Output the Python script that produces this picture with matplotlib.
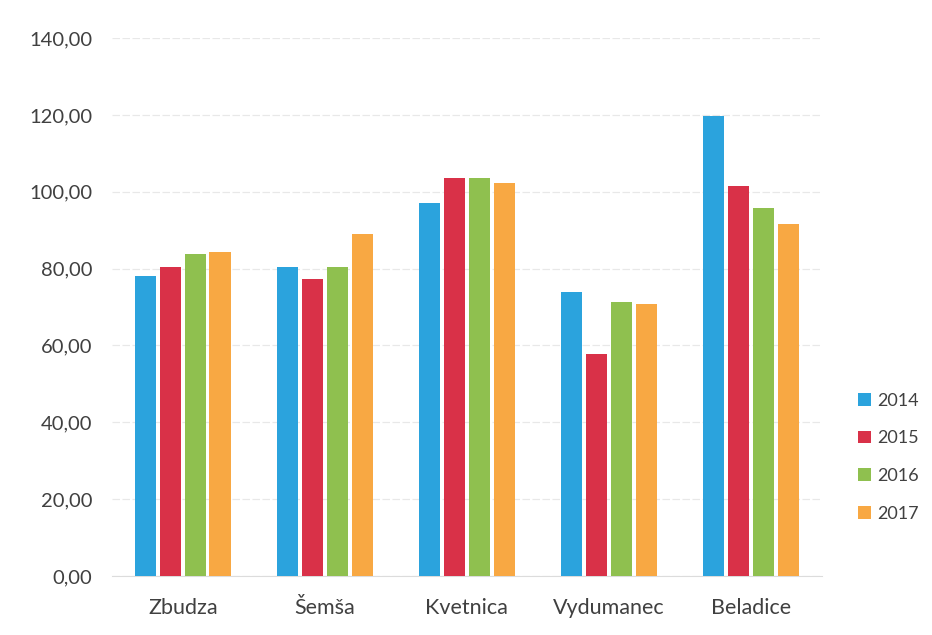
import matplotlib
matplotlib.use("Agg")
import matplotlib.pyplot as plt
import numpy as np
from matplotlib.patches import Patch

categories = ["Zbudza", "Šemša", "Kvetnica", "Vydumanec", "Beladice"]
years = ["2014", "2015", "2016", "2017"]
v2014 = [78.2, 80.3, 97.0, 74.0, 119.7]
v2015 = [80.3, 77.2, 103.7, 57.8, 101.5]
v2016 = [83.7, 80.4, 103.6, 71.3, 95.9]
v2017 = [84.4, 89.0, 102.3, 70.9, 91.5]
series = [v2014, v2015, v2016, v2017]
colors = ["#2ba3dd", "#d93148", "#8fc04f", "#f8a843"]
yticks = [0, 20, 40, 60, 80, 100, 120, 140]

plt.rcParams['font.family'] = ['Lato', 'DejaVu Sans']
fig = plt.figure(figsize=(9.32, 6.35), dpi=100)
ax = fig.add_axes([0.120, 0.093, 0.762, 0.847])

x = np.arange(len(categories))
width = 0.15
pitch = 0.175
for i, (vals, c) in enumerate(zip(series, colors)):
    ax.bar(x + (i - 1.5) * pitch, vals, width=width, color=c, zorder=3)

ax.set_xlim(-0.5, len(categories) - 0.5)
ax.set_ylim(0, 140)
ax.set_yticks(yticks)
ax.set_yticklabels([f"{t:.2f}".replace(".", ",") for t in yticks])
ax.set_xticks(x)
ax.set_xticklabels(categories)
ax.tick_params(axis='both', length=0, colors="#404040")
ax.tick_params(axis='y', pad=14, labelsize=14.5)
ax.tick_params(axis='x', pad=16, labelsize=15.5)
ax.grid(axis='y', color="#e8e8e8", linewidth=0.9, linestyle=(0, (6, 2)), zorder=0)
for s in ["top", "right", "left"]:
    ax.spines[s].set_visible(False)
ax.spines["bottom"].set_color("#dcdcdc")

handles = [Patch(facecolor=c, label=y) for c, y in zip(colors, years)]
fig.legend(handles=handles, loc="center", bbox_to_anchor=(0.953, 0.28), frameon=False,
           handlelength=0.7, handleheight=0.7, handletextpad=0.35, labelspacing=1.2,
           fontsize=13, labelcolor="#404040")

fig.savefig("out.png", dpi=100, facecolor="white")
